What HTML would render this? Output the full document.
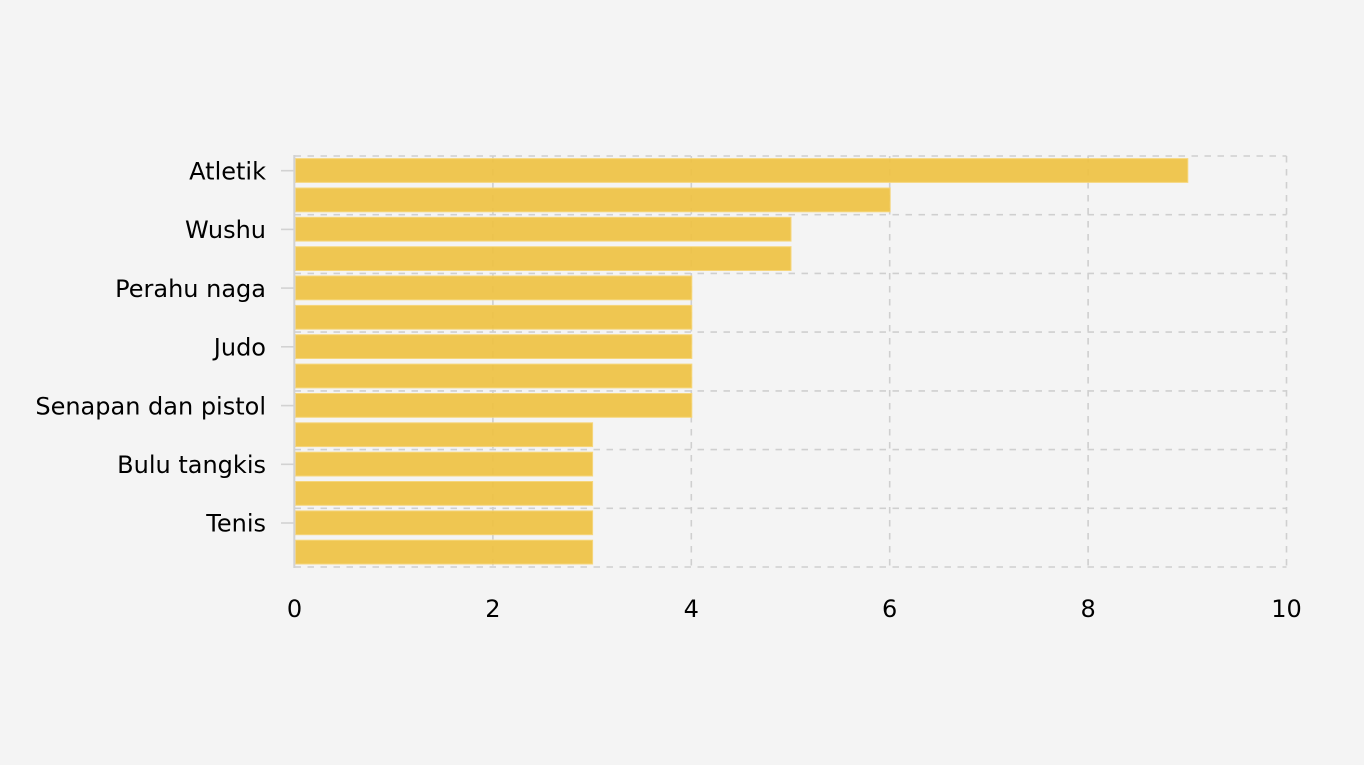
<!DOCTYPE html>
<html>
<head>
<meta charset="utf-8">
<style>
  html, body { margin: 0; padding: 0; background: #f4f4f4; }
  svg { display: block; }
  text { font-family: "DejaVu Sans", "Liberation Sans", sans-serif; fill: #000; }
</style>
</head>
<body>
<svg width="1364" height="765" viewBox="0 0 1364 765" xmlns="http://www.w3.org/2000/svg">
  <rect x="0" y="0" width="1364" height="765" fill="#f4f4f4"/>

  <!-- horizontal grid lines -->
  <g stroke="#cfcfcf" stroke-width="1.6" stroke-dasharray="6.5 6.5" fill="none">
    <line x1="294.5" y1="156" x2="1286.5" y2="156"/>
    <line x1="294.5" y1="214.7" x2="1286.5" y2="214.7"/>
    <line x1="294.5" y1="273.4" x2="1286.5" y2="273.4"/>
    <line x1="294.5" y1="332.1" x2="1286.5" y2="332.1"/>
    <line x1="294.5" y1="390.9" x2="1286.5" y2="390.9"/>
    <line x1="294.5" y1="449.6" x2="1286.5" y2="449.6"/>
    <line x1="294.5" y1="508.3" x2="1286.5" y2="508.3"/>
    <line x1="294.5" y1="567" x2="1286.5" y2="567"/>
  </g>
  <!-- vertical grid lines -->
  <g stroke="#cfcfcf" stroke-width="1.6" stroke-dasharray="6.5 6.5" fill="none">
    <line x1="492.9" y1="156" x2="492.9" y2="567"/>
    <line x1="691.3" y1="156" x2="691.3" y2="567"/>
    <line x1="889.7" y1="156" x2="889.7" y2="567"/>
    <line x1="1088.1" y1="156" x2="1088.1" y2="567"/>
    <line x1="1286.5" y1="156" x2="1286.5" y2="567"/>
  </g>

  <!-- bars -->
  <g fill="#eec13f" fill-opacity="0.9" stroke="#f6d67c" stroke-width="1">
    <rect x="295.5" y="158.6" width="892.3" height="23.8"/>
    <rect x="295.5" y="188.0" width="594.7" height="23.8"/>
    <rect x="295.5" y="217.3" width="495.5" height="23.8"/>
    <rect x="295.5" y="246.7" width="495.5" height="23.8"/>
    <rect x="295.5" y="276.0" width="396.3" height="23.8"/>
    <rect x="295.5" y="305.4" width="396.3" height="23.8"/>
    <rect x="295.5" y="334.7" width="396.3" height="23.8"/>
    <rect x="295.5" y="364.1" width="396.3" height="23.8"/>
    <rect x="295.5" y="393.5" width="396.3" height="23.8"/>
    <rect x="295.5" y="422.8" width="297.1" height="23.8"/>
    <rect x="295.5" y="452.2" width="297.1" height="23.8"/>
    <rect x="295.5" y="481.5" width="297.1" height="23.8"/>
    <rect x="295.5" y="510.9" width="297.1" height="23.8"/>
    <rect x="295.5" y="540.2" width="297.1" height="23.8"/>
  </g>

  <!-- left axis line -->
  <line x1="294.3" y1="155" x2="294.3" y2="568" stroke="#d2d2d2" stroke-width="2"/>

  <!-- left ticks -->
  <g stroke="#d2d2d2" stroke-width="1.6">
    <line x1="281" y1="170.7" x2="294" y2="170.7"/>
    <line x1="281" y1="229.4" x2="294" y2="229.4"/>
    <line x1="281" y1="288.1" x2="294" y2="288.1"/>
    <line x1="281" y1="346.8" x2="294" y2="346.8"/>
    <line x1="281" y1="405.6" x2="294" y2="405.6"/>
    <line x1="281" y1="464.3" x2="294" y2="464.3"/>
    <line x1="281" y1="523.0" x2="294" y2="523.0"/>
  </g>

  <!-- y labels -->
  <g font-size="24" text-anchor="end">
    <text x="266" y="179.4">Atletik</text>
    <text x="266" y="238.1">Wushu</text>
    <text x="266" y="296.8">Perahu naga</text>
    <text x="266" y="355.5">Judo</text>
    <text x="266" y="414.3">Senapan dan pistol</text>
    <text x="266" y="473.0">Bulu tangkis</text>
    <text x="266" y="531.7">Tenis</text>
  </g>

  <!-- x labels -->
  <g font-size="24" text-anchor="middle">
    <text x="294.5" y="617">0</text>
    <text x="492.9" y="617">2</text>
    <text x="691.3" y="617">4</text>
    <text x="889.7" y="617">6</text>
    <text x="1088.1" y="617">8</text>
    <text x="1286.5" y="617">10</text>
  </g>
</svg>
</body>
</html>
